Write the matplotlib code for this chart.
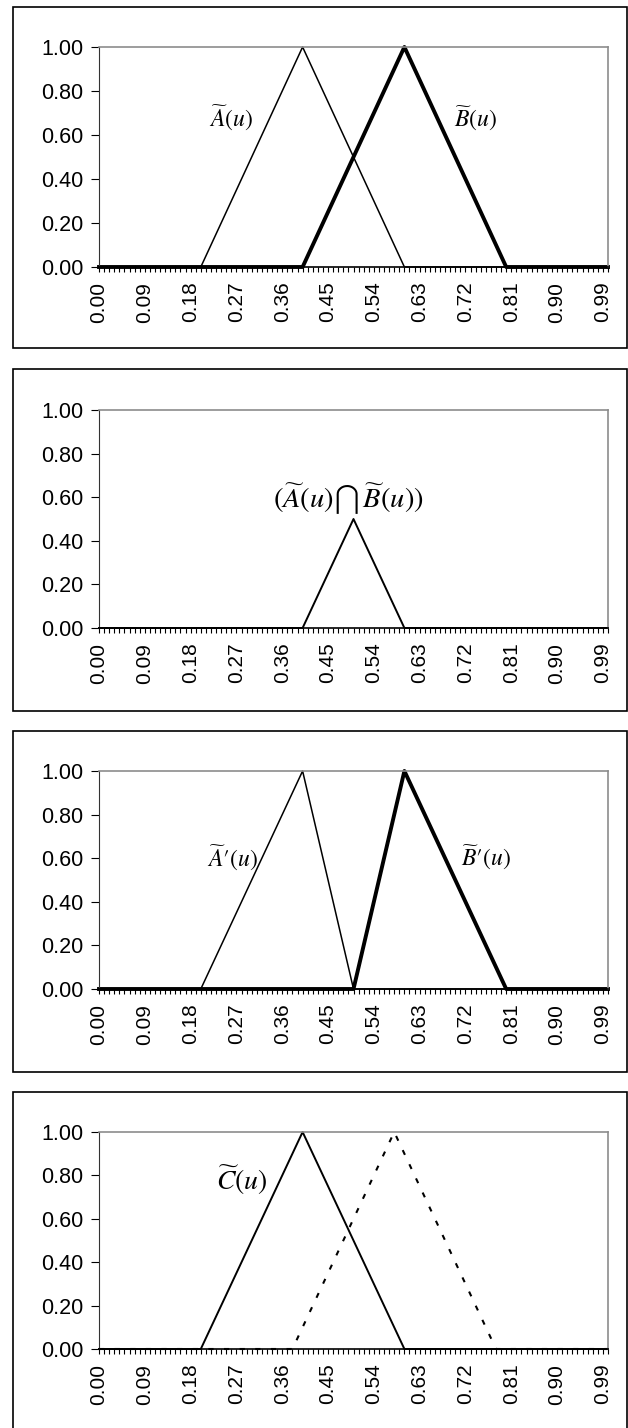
import matplotlib
matplotlib.use('Agg')
import matplotlib.pyplot as plt
from matplotlib.patches import Rectangle
from matplotlib.ticker import FixedLocator, FixedFormatter

plt.rcParams['font.family'] = ['Liberation Sans', 'DejaVu Sans']
plt.rcParams['mathtext.fontset'] = 'stix'

# category axis 0.00 .. 1.00, step 0.01
u = [i / 100 for i in range(101)]
tick_pos = [0.00, 0.09, 0.18, 0.27, 0.36, 0.45, 0.54, 0.63, 0.72, 0.81, 0.90, 0.99]
tick_labels = ['0.00', '0.09', '0.18', '0.27', '0.36', '0.45', '0.54', '0.63',
               '0.72', '0.81', '0.90', '0.99']

# pieces
rise20 = [0.05, 0.10, 0.15, 0.20, 0.25, 0.30, 0.35, 0.40, 0.45, 0.50,
          0.55, 0.60, 0.65, 0.70, 0.75, 0.80, 0.85, 0.90, 0.95, 1.00]
fall20 = [0.95, 0.90, 0.85, 0.80, 0.75, 0.70, 0.65, 0.60, 0.55, 0.50,
          0.45, 0.40, 0.35, 0.30, 0.25, 0.20, 0.15, 0.10, 0.05, 0.00]

# panel 1
a_u = [0.0] * 21 + rise20 + fall20 + [0.0] * 40
b_u = [0.0] * 41 + rise20 + fall20 + [0.0] * 20
# panel 2
ab_u = [0.0] * 41 + [0.05, 0.10, 0.15, 0.20, 0.25, 0.30, 0.35, 0.40, 0.45, 0.50] \
       + [0.45, 0.40, 0.35, 0.30, 0.25, 0.20, 0.15, 0.10, 0.05, 0.00] + [0.0] * 40
# panel 3
a2_u = [0.0] * 21 + rise20 + [0.90, 0.80, 0.70, 0.60, 0.50, 0.40, 0.30, 0.20, 0.10, 0.00] \
       + [0.0] * 50
b2_u = [0.0] * 51 + [0.10, 0.20, 0.30, 0.40, 0.50, 0.60, 0.70, 0.80, 0.90, 1.00] \
       + fall20 + [0.0] * 20
# panel 4
c_u = [0.0] * 21 + rise20 + fall20 + [0.0] * 40
d_u = [0.0] * 39 + rise20 + fall20 + [0.0] * 22

W, H = 628, 1428
fig = plt.figure(figsize=(W / 100, H / 100), dpi=100)


def panel(ax_top, ax_bot, box_top, box_bot):
    fig.add_artist(Rectangle((12.5 / W, 1 - box_bot / H), 614 / W, (box_bot - box_top) / H,
                             transform=fig.transFigure, fill=False, ec='black', lw=1.2))
    ax = fig.add_axes([99 / W, 1 - ax_bot / H, 509 / W, (ax_bot - ax_top) / H])
    ax.set_xlim(0, 1.0)
    ax.set_ylim(0, 1.0)
    ax.set_yticks([0, 0.2, 0.4, 0.6, 0.8, 1.0])
    ax.set_yticklabels(['0.00', '0.20', '0.40', '0.60', '0.80', '1.00'])
    ax.xaxis.set_major_locator(FixedLocator(tick_pos))
    ax.xaxis.set_major_formatter(FixedFormatter(tick_labels))
    ax.xaxis.set_minor_locator(FixedLocator(u))
    ax.tick_params(axis='x', which='both', direction='out', length=3.6, width=0.8,
                   labelrotation=90, labelsize=15, pad=7)
    ax.tick_params(axis='y', direction='out', length=5.5, width=0.8, labelsize=15.5, pad=6)
    for s in ['top', 'right']:
        ax.spines[s].set_color('#8c8c8c')
        ax.spines[s].set_linewidth(1.2)
    ax.spines['left'].set_color('#333333')
    ax.spines['bottom'].set_color('black')
    ax.spines['bottom'].set_linewidth(1.2)
    return ax


lab = dict(fontsize=17, ha='center', va='center')

ax1 = panel(47, 267, 7, 348)
ax1.plot(u, a_u, color='black', lw=1.1, clip_on=False)
ax1.plot(u, b_u, color='black', lw=2.8, clip_on=False)
ax1.text(0.26, 0.675, r'$\widetilde{A}(u)$', **lab)
ax1.text(0.74, 0.675, r'$\widetilde{B}(u)$', **lab)

ax2 = panel(410, 628, 369, 711)
ax2.plot(u, ab_u, color='black', lw=1.4, clip_on=False)
ax2.text(0.49, 0.59, r'$(\widetilde{A}(u)\bigcap\,\widetilde{B}(u))$', fontsize=20.5,
         ha='center', va='center')

ax3 = panel(771, 989, 731, 1072)
ax3.plot(u, a2_u, color='black', lw=1.1, clip_on=False)
ax3.plot(u, b2_u, color='black', lw=2.8, clip_on=False)
ax3.text(0.262, 0.6, r"$\widetilde{A}\prime(u)$", **lab)
ax3.text(0.76, 0.6, r"$\widetilde{B}\prime(u)$", **lab)

ax4 = panel(1132, 1349, 1092, 1440)
ax4.plot(u, c_u, color='black', lw=1.4, clip_on=False)
ax4.plot(u, d_u, color='black', lw=1.5, ls=(0, (2.5, 5)), clip_on=False)
ax4.text(0.28, 0.78, r'$\widetilde{C}(u)$', fontsize=20, ha='center', va='center')

fig.savefig('out.png', dpi=100)
